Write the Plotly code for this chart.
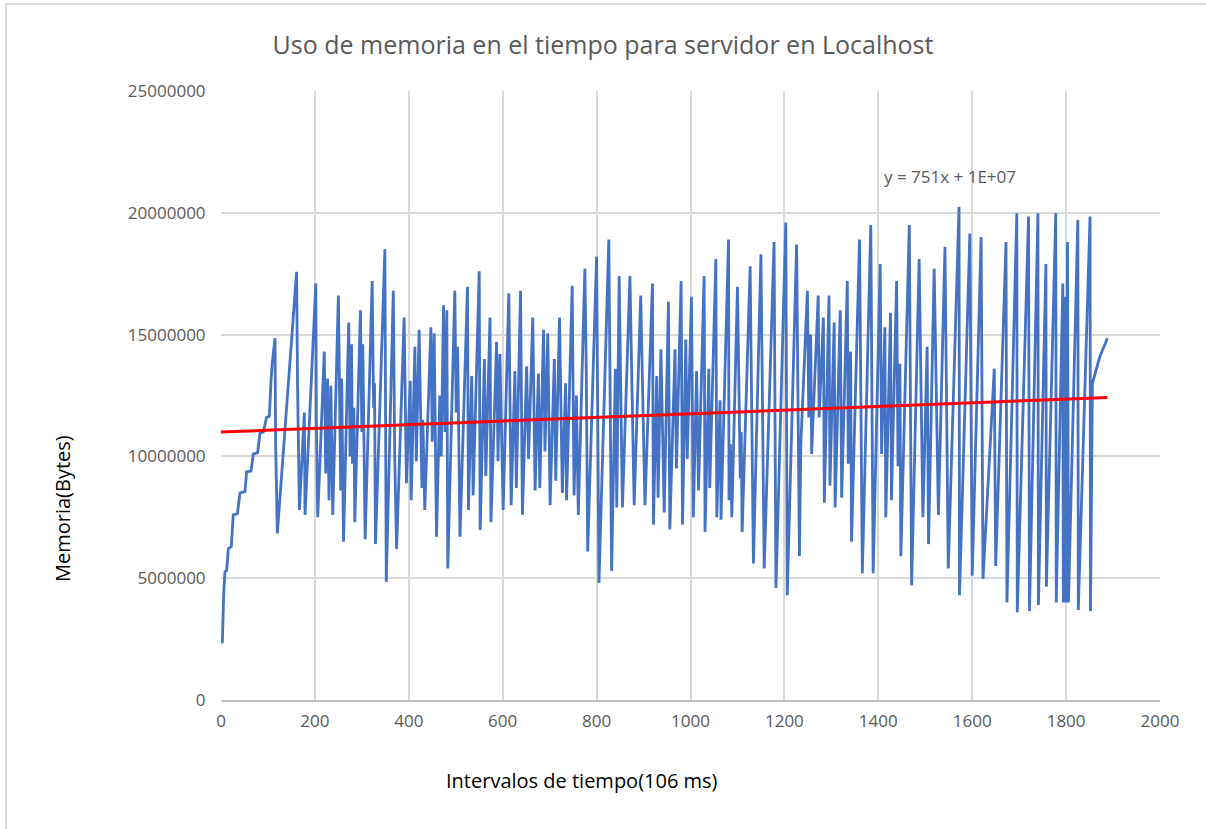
import plotly.graph_objects as go

# vertices of the memory trace (interval index, memory in millions of bytes)
INTERVALOS = [
    2.8, 5, 6, 8.5, 12, 15.6, 22, 26, 35, 40.5, 51, 54.6, 64, 68.9, 78, 83, 90, 97, 103,
    106.5, 109, 115, 116.4, 120, 161, 163, 167, 177.5, 179, 202, 203, 206, 220, 223, 227,
    230, 234, 238, 250, 255, 257, 261, 272, 275, 278, 280, 283, 285, 297, 300, 302, 307,
    322, 325, 327, 329, 349, 352, 367, 370, 374, 390, 395, 403, 405, 413, 416, 422, 428,
    430, 434, 447, 450, 454, 459, 466, 469, 474, 477, 481, 483, 498, 501, 504, 509, 525,
    527, 534, 537, 550, 552, 561, 564, 573, 575, 587, 590, 594, 601, 613, 618, 626, 629,
    638, 642, 651, 655, 664, 669, 676, 679, 687, 690, 696, 701, 710, 713, 721, 727, 734,
    736, 748, 752, 757, 761, 775, 778, 781, 800, 805, 826, 832, 840, 843, 848, 855, 871,
    880, 894, 903, 919, 921, 928, 931, 937, 944, 953, 956, 967, 970, 980, 983, 990, 993,
    1002, 1006, 1013, 1017, 1029, 1031, 1039, 1041, 1054, 1056, 1063, 1065, 1081, 1082,
    1085, 1088, 1100, 1106, 1108, 1110, 1127, 1134, 1150, 1157, 1178, 1182, 1203, 1206,
    1226, 1232, 1235, 1249, 1252, 1256, 1258, 1272, 1274, 1283, 1285, 1295, 1297, 1306,
    1308, 1319, 1322, 1334, 1336, 1341, 1343, 1360, 1366, 1384, 1389, 1404, 1407, 1414,
    1416, 1426, 1428, 1439, 1442, 1446, 1448, 1466, 1471, 1487, 1495, 1504, 1507, 1519,
    1528, 1542, 1549, 1572, 1573, 1595, 1600, 1619, 1623, 1647, 1650, 1672, 1674, 1695,
    1696, 1720, 1722, 1740, 1741, 1757, 1758, 1778, 1779, 1793, 1794, 1799, 1800, 1803,
    1805, 1825, 1826, 1851, 1852, 1856, 1872, 1888,
]
MEMORIA_M = [
    2.33, 4.38, 4.5, 5.27, 5.3, 6.21, 6.3, 7.6, 7.65, 8.5, 8.55, 9.37, 9.4, 10.1, 10.15,
    10.96, 11.0, 11.6, 11.65, 13.1, 13.8, 14.85, 10.5, 6.84, 17.58, 13.0, 7.8, 11.8, 7.6,
    17.1, 11.6, 7.5, 14.3, 9.3, 13.2, 8.2, 12.9, 7.6, 16.6, 8.6, 13.2, 6.5, 15.5, 10.0,
    14.6, 9.7, 12.0, 7.3, 16.0, 11.0, 14.6, 6.6, 17.2, 12.0, 13.0, 6.4, 18.5, 4.85, 16.8,
    10.0, 6.2, 15.7, 8.9, 13.1, 8.2, 14.5, 9.8, 15.2, 8.7, 11.5, 7.8, 15.3, 10.6, 15.05,
    6.7, 12.5, 10.0, 16.2, 11.0, 16.0, 5.4, 16.8, 11.8, 14.5, 6.7, 16.96, 7.8, 13.3, 8.4,
    17.6, 6.98, 14.0, 9.2, 15.7, 7.3, 14.7, 9.8, 14.2, 7.8, 16.7, 8.0, 13.5, 8.7, 16.8,
    7.6, 13.7, 9.9, 15.7, 8.6, 13.4, 8.7, 15.2, 10.2, 15.05, 8.0, 14.0, 9.0, 15.7, 8.5,
    13.0, 8.2, 17.0, 8.4, 12.5, 7.6, 17.7, 13.5, 6.1, 18.2, 4.8, 18.9, 5.3, 13.6, 7.9,
    17.4, 7.9, 17.4, 8.0, 16.6, 8.0, 17.1, 7.2, 13.3, 8.3, 14.4, 7.7, 16.35, 7.0, 14.4,
    9.5, 17.2, 7.2, 14.8, 9.9, 16.55, 7.5, 13.5, 8.6, 17.4, 6.9, 13.6, 8.7, 18.1, 7.5,
    12.3, 7.4, 18.9, 8.2, 10.5, 7.5, 16.96, 9.1, 11.0, 6.9, 17.8, 5.6, 18.3, 5.4, 18.8,
    4.6, 19.6, 4.3, 18.7, 5.9, 10.5, 16.8, 11.6, 15.0, 10.1, 16.6, 11.6, 15.7, 8.1, 16.6,
    8.8, 15.5, 7.9, 16.0, 8.3, 17.2, 9.7, 14.3, 6.5, 18.9, 5.2, 19.5, 5.2, 17.9, 10.1,
    15.3, 7.5, 15.9, 8.2, 17.2, 9.6, 13.8, 5.9, 19.5, 4.7, 18.1, 7.5, 14.5, 6.4, 17.7,
    7.6, 18.6, 5.4, 20.25, 4.3, 19.15, 5.1, 19.0, 4.97, 13.6, 5.5, 18.8, 4.0, 19.98, 3.6,
    19.85, 3.65, 19.98, 3.9, 17.9, 4.65, 19.98, 4.0, 17.1, 4.0, 16.55, 4.0, 18.8, 4.0,
    19.7, 3.7, 19.85, 3.65, 13.0, 14.1, 14.85,
]

# linear trend as printed on the chart (slope read, intercept)
TREND_SLOPE = 751.0
TREND_INTERCEPT = 1.10e7
TREND_LABEL = "y = 751x + 1E+07"

X_TICKS = list(range(0, 2001, 200))
Y_TICKS = list(range(0, 25000001, 5000000))

memoria = [v * 1e6 for v in MEMORIA_M]
trend_x = [0, INTERVALOS[-1]]
trend_y = [TREND_INTERCEPT + TREND_SLOPE * x for x in trend_x]

W, H = 1206, 829
L, R, T, B = 221, 1160, 91, 700

fig = go.Figure()
fig.add_trace(go.Scatter(x=INTERVALOS, y=memoria, mode="lines",
                         line=dict(color="#4472C4", width=2.8), showlegend=False))
fig.add_trace(go.Scatter(x=trend_x, y=trend_y, mode="lines",
                         line=dict(color="#FF0000", width=3), showlegend=False))


def px_x(p):
    return (p - L) / (R - L)


def px_y(p):
    return (B - p) / (B - T)


grey = "#595959"
fig.update_layout(
    width=W, height=H,
    margin=dict(l=L, r=W - R, t=T, b=H - B),
    paper_bgcolor="white", plot_bgcolor="white",
    font=dict(family="Open Sans", color=grey, size=17),
    title=dict(text="Uso de memoria en el tiempo para servidor en Localhost",
               x=0.5, xref="container", xanchor="center",
               y=1 - 45 / H, yref="container", yanchor="middle",
               font=dict(size=25, color=grey)),
    xaxis=dict(range=[0, 2000], tickvals=X_TICKS, showgrid=True, gridcolor="#D9D9D9",
               gridwidth=1.5, zeroline=False, showline=True, linecolor="#BFBFBF", linewidth=1.5,
               ticks="outside", ticklen=5, tickcolor="rgba(0,0,0,0)"),
    yaxis=dict(range=[0, 25000000], tickvals=Y_TICKS, tickformat="d", showgrid=True,
               gridcolor="#D9D9D9", gridwidth=1.5, zeroline=False, showline=False,
               ticks="outside", ticklen=11, tickcolor="rgba(0,0,0,0)"),
    annotations=[
        dict(text="Intervalos de tiempo(106 ms)", x=px_x(582), y=px_y(780), xref="paper",
             yref="paper", xanchor="center", yanchor="middle", showarrow=False,
             font=dict(size=20, color="black")),
        dict(text="Memoria(Bytes)", x=px_x(62), y=px_y(509), xref="paper", yref="paper",
             xanchor="center", yanchor="middle", showarrow=False, textangle=-90,
             font=dict(size=20, color="black")),
        dict(text=TREND_LABEL, x=px_x(950), y=px_y(176), xref="paper", yref="paper",
             xanchor="center", yanchor="middle", showarrow=False,
             font=dict(size=17, color=grey)),
    ],
    shapes=[
        dict(type="line", xref="paper", yref="paper", x0=px_x(6), x1=px_x(W + 5),
             y0=px_y(4), y1=px_y(4), line=dict(color="#D9D9D9", width=2)),
        dict(type="line", xref="paper", yref="paper", x0=px_x(6), x1=px_x(6),
             y0=px_y(4), y1=px_y(H + 5), line=dict(color="#D9D9D9", width=2)),
    ],
)

fig.write_html("out.html", config={"displayModeBar": False},
               post_script="document.body.style.margin='0';")
